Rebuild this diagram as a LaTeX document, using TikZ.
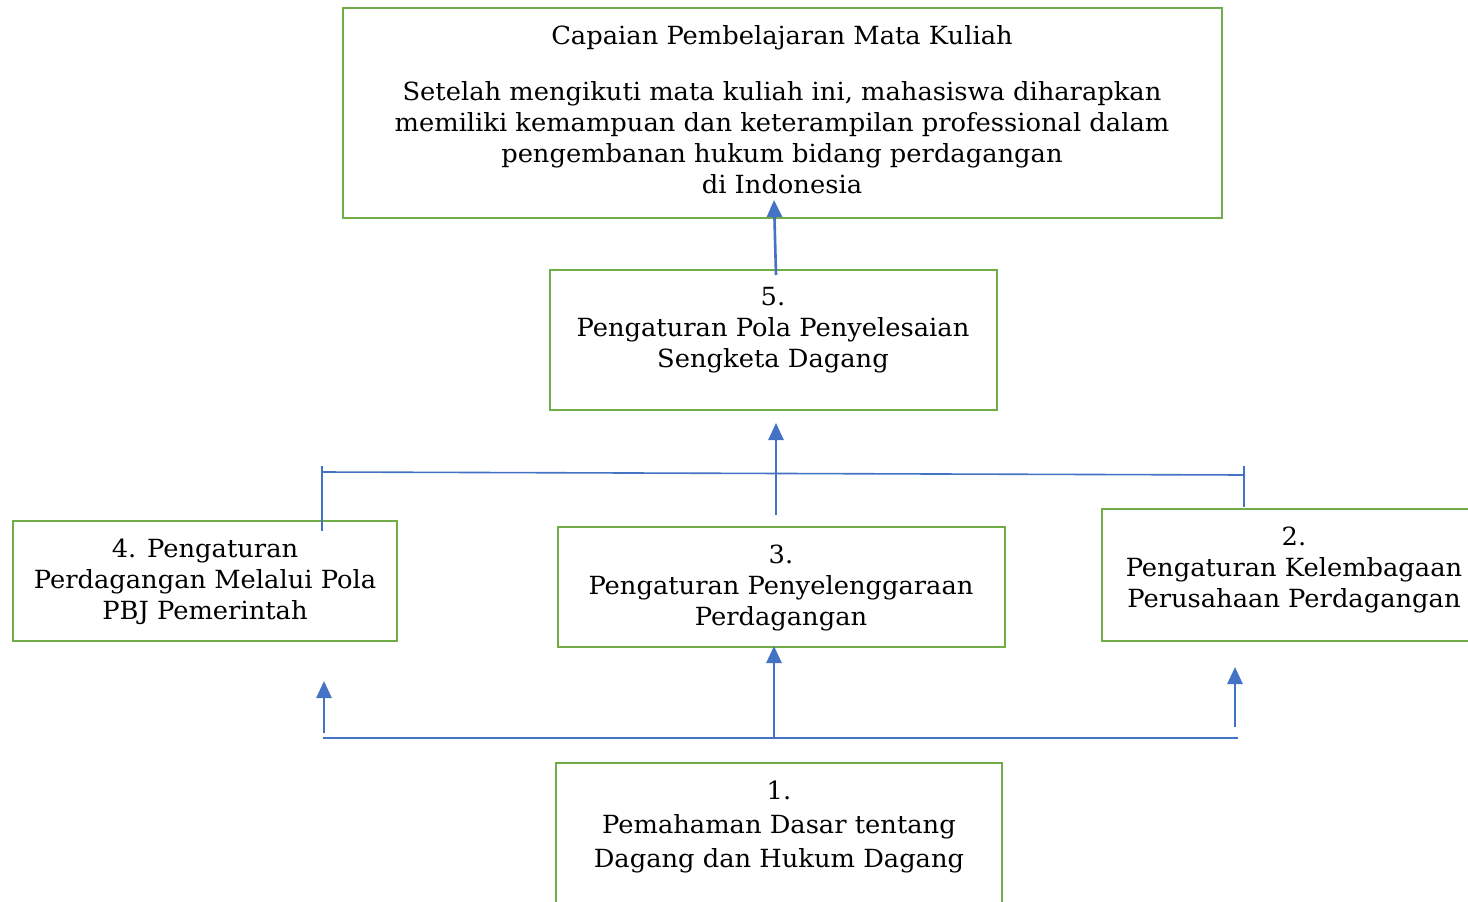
\documentclass[tikz,border=0pt]{standalone}
\usepackage{fontspec}
\setmainfont{DejaVu Serif}[FakeStretch=1.03]
\usetikzlibrary{arrows.meta}
\definecolor{boxgreen}{HTML}{70AD47}
\definecolor{arrblue}{HTML}{4472C4}
\tikzset{
  box/.style={draw=boxgreen, line width=2.8pt, rectangle, inner sep=0pt},
  txt/.style={align=center, inner sep=0pt, anchor=north, font=\fontsize{25}{31}\selectfont, text=black},
  arr/.style={draw=arrblue, line width=2.6pt, -{Triangle[length=17pt,width=15pt]}},
  thin/.style={draw=arrblue, line width=1.6pt},
}
\begin{document}
\begin{tikzpicture}[x=1pt,y=-1pt]
\useasboundingbox (0,0) rectangle (1468,902);
\fill[white] (0,0) rectangle (1468,902);
\begin{scope}
\clip (0,0) rectangle (1468,902);
% boxes
\node[box, minimum width=879, minimum height=210] (top) at (782.5,113) {};
\node[box, minimum width=447, minimum height=140] (b5) at (773.5,340) {};
\node[box, minimum width=384, minimum height=120] (b4) at (205,581) {};
\node[box, minimum width=447, minimum height=120] (b3) at (781.5,587) {};
\node[box, minimum width=380, minimum height=132] (b2) at (1292,575) {};
\node[box, minimum width=446, minimum height=160] (b1) at (779,843) {};
\end{scope}
% texts
\node[txt] (toptxt) at (782,25) {Capaian Pembelajaran Mata Kuliah\\[25pt]
Setelah mengikuti mata kuliah ini, mahasiswa diharapkan\\
memiliki kemampuan dan keterampilan professional dalam\\
pengembanan hukum bidang perdagangan\\
di Indonesia};
\node[txt] (t5) at (773,287) {5.\\Pengaturan Pola Penyelesaian\\Sengketa Dagang};
\node[txt] (t4) at (205,539) {4. Pengaturan\\Perdagangan Melalui Pola\\PBJ Pemerintah};
\node[txt] (t3) at (781,545) {3.\\Pengaturan Penyelenggaraan\\Perdagangan};
\node[txt] (t2) at (1294,527) {2.\\Pengaturan Kelembagaan\\Perusahaan Perdagangan};
\node[txt, font=\fontsize{25}{34}\selectfont] (t1) at (779,781) {1.\\Pemahaman Dasar tentang\\Dagang dan Hukum Dagang};
% connector coordinates
\coordinate (c5s) at (776,275);
\coordinate (c5e) at (774,200);
\coordinate (c3s) at (776,515);
\coordinate (c3e) at (776,423);
\coordinate (hl) at (322,472);
\coordinate (hr) at (1245,475);
\coordinate (tl1) at (322,466);
\coordinate (tl2) at (322,531);
\coordinate (tr1) at (1244,466);
\coordinate (tr2) at (1244,507);
\coordinate (bl) at (323,738);
\coordinate (br) at (1238,738);
\coordinate (bm) at (774,738);
\coordinate (bme) at (774,646);
\coordinate (las) at (324,733);
\coordinate (lae) at (324,681);
\coordinate (ras) at (1235,727);
\coordinate (rae) at (1235,667);
% connectors
\draw[arr] (c5s) -- (c5e);
\draw[arr] (c3s) -- (c3e);
\draw[thin] (hl) -- (hr);
\draw[thin, line width=1.1pt] (tl1) -- (tl2);
\draw[thin, line width=1.1pt] (tr1) -- (tr2);
\draw[thin, line width=2pt] (bl) -- (br);
\draw[arr] (bm) -- (bme);
\draw[arr] (las) -- (lae);
\draw[arr] (ras) -- (rae);
\end{tikzpicture}
\end{document}
